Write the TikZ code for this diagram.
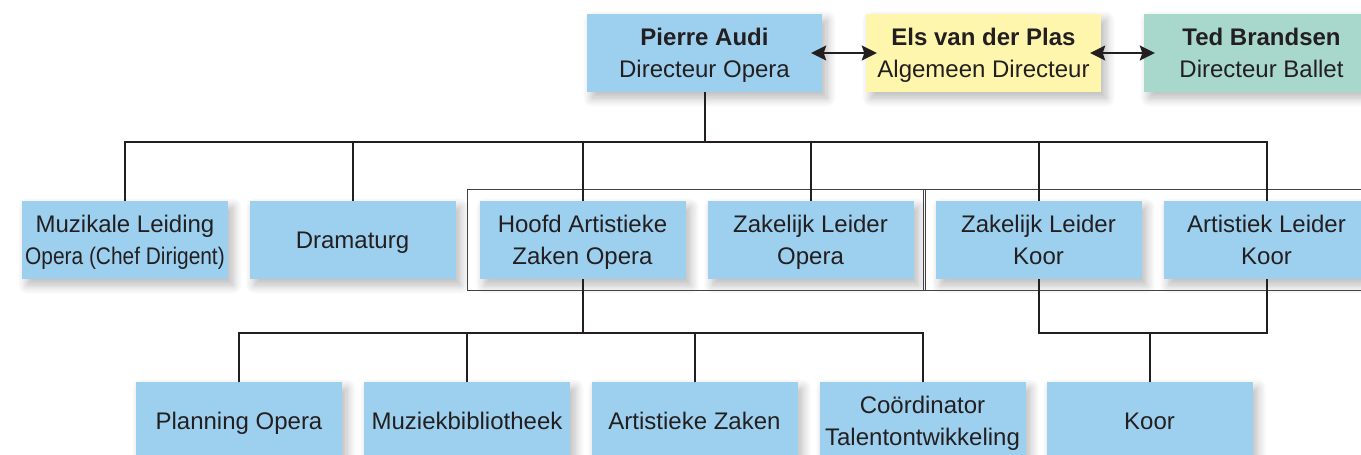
\documentclass[tikz,border=0pt]{standalone}
\usepackage{fontspec}
\setmainfont{Liberation Sans}
\usetikzlibrary{arrows.meta,fit,shadows.blur}

\definecolor{opblauw}{HTML}{9DD0EF}
\definecolor{algeel}{HTML}{FFF6AD}
\definecolor{balgroen}{HTML}{A8D8CB}
\definecolor{inkt}{HTML}{231F20}

\begin{document}
\begin{tikzpicture}[x=1pt,y=-1pt,
        font=\fontsize{24}{32}\selectfont, text=inkt,
        box/.style={fill=opblauw, minimum width=206pt, minimum height=78pt,
            inner sep=0pt, align=center, text height=23pt, text depth=6pt,
            blur shadow={shadow xshift=5pt, shadow yshift=-6pt,
                shadow blur radius=9pt, shadow blur steps=8, shadow opacity=28}},
        twee/.style={text height=55pt}, % twee regels
        kop/.style={box, twee, minimum width=235pt},
        lijn/.style={draw=inkt, line width=2pt},
        kader/.style={draw=inkt!85, line width=1.3pt, inner xsep=11.5pt, inner ysep=11.5pt},
        >={Stealth[length=15pt,width=15pt,inset=2.5pt]} % pijlpunten
        ]
    \useasboundingbox (0,0) rectangle (1361,455);
    \clip (0,0) rectangle (1361,455);

    % Directie
    \node[kop] (pierre) at (704.5,53) {\textbf{Pierre Audi}\\Directeur Opera};
    \node[kop, fill=algeel] (els) at (983.5,53) {\textbf{Els van der Plas}\\Algemeen Directeur};
    \node[kop, fill=balgroen] (ted) at (1261.5,53) {\textbf{Ted Brandsen}\\Directeur Ballet};

    % Afdelingen
    \node[box, twee] (muz) at (125,240) {Muzikale Leiding\\\scalebox{0.87}[1]{Opera (Chef Dirigent)}};
    \node[box] (dram) at (352.5,240) {Dramaturg};
    \node[box, twee] (hoofd) at (582.5,240) {Hoofd Artistieke\\Zaken Opera};
    \node[box, twee] (zakop) at (810.5,240) {Zakelijk Leider\\Opera};
    \node[box, twee] (zakkoor) at (1038.5,240) {Zakelijk Leider\\Koor};
    \node[box, twee] (artkoor) at (1266.5,240) {Artistiek Leider\\Koor};

    % Onderafdelingen
    \node[box] (plan) at (239,421) {Planning Opera};
    \node[box] (muzbib) at (467,421) {Muziekbibliotheek};
    \node[box] (artzak) at (694.5,421) {Artistieke Zaken};
    \node[box, twee] (coord) at (922.5,421) {Coördinator\\Talentontwikkeling};
    \node[box] (koor) at (1149.5,421) {Koor};

    % Kaders
    \node[kader, fit=(hoofd)(zakop)] (kaderop) {};
    \node[kader, fit=(zakkoor)(artkoor)] (kaderkoor) {};

    % Lijnen
    \foreach \n in {muz,dram,hoofd,zakop,zakkoor,artkoor}
        \draw[lijn] (pierre.south) -- ++(0,50) -| (\n.north);
    \foreach \n in {plan,muzbib,artzak,coord}
        \draw[lijn] (hoofd.south) -- ++(0,54) -| (\n.north);
    \draw[lijn] (zakkoor.south) -- ++(0,54) -| (artkoor.south);
    \draw[lijn] (koor.north) -- ++(0,-49);

    % Pijlen
    \draw[lijn, <->, shorten <=-11pt, shorten >=-11pt] (pierre) -- (els);
    \draw[lijn, <->, shorten <=-11pt, shorten >=-11pt] (els) -- (ted);

\end{tikzpicture}
\end{document}
